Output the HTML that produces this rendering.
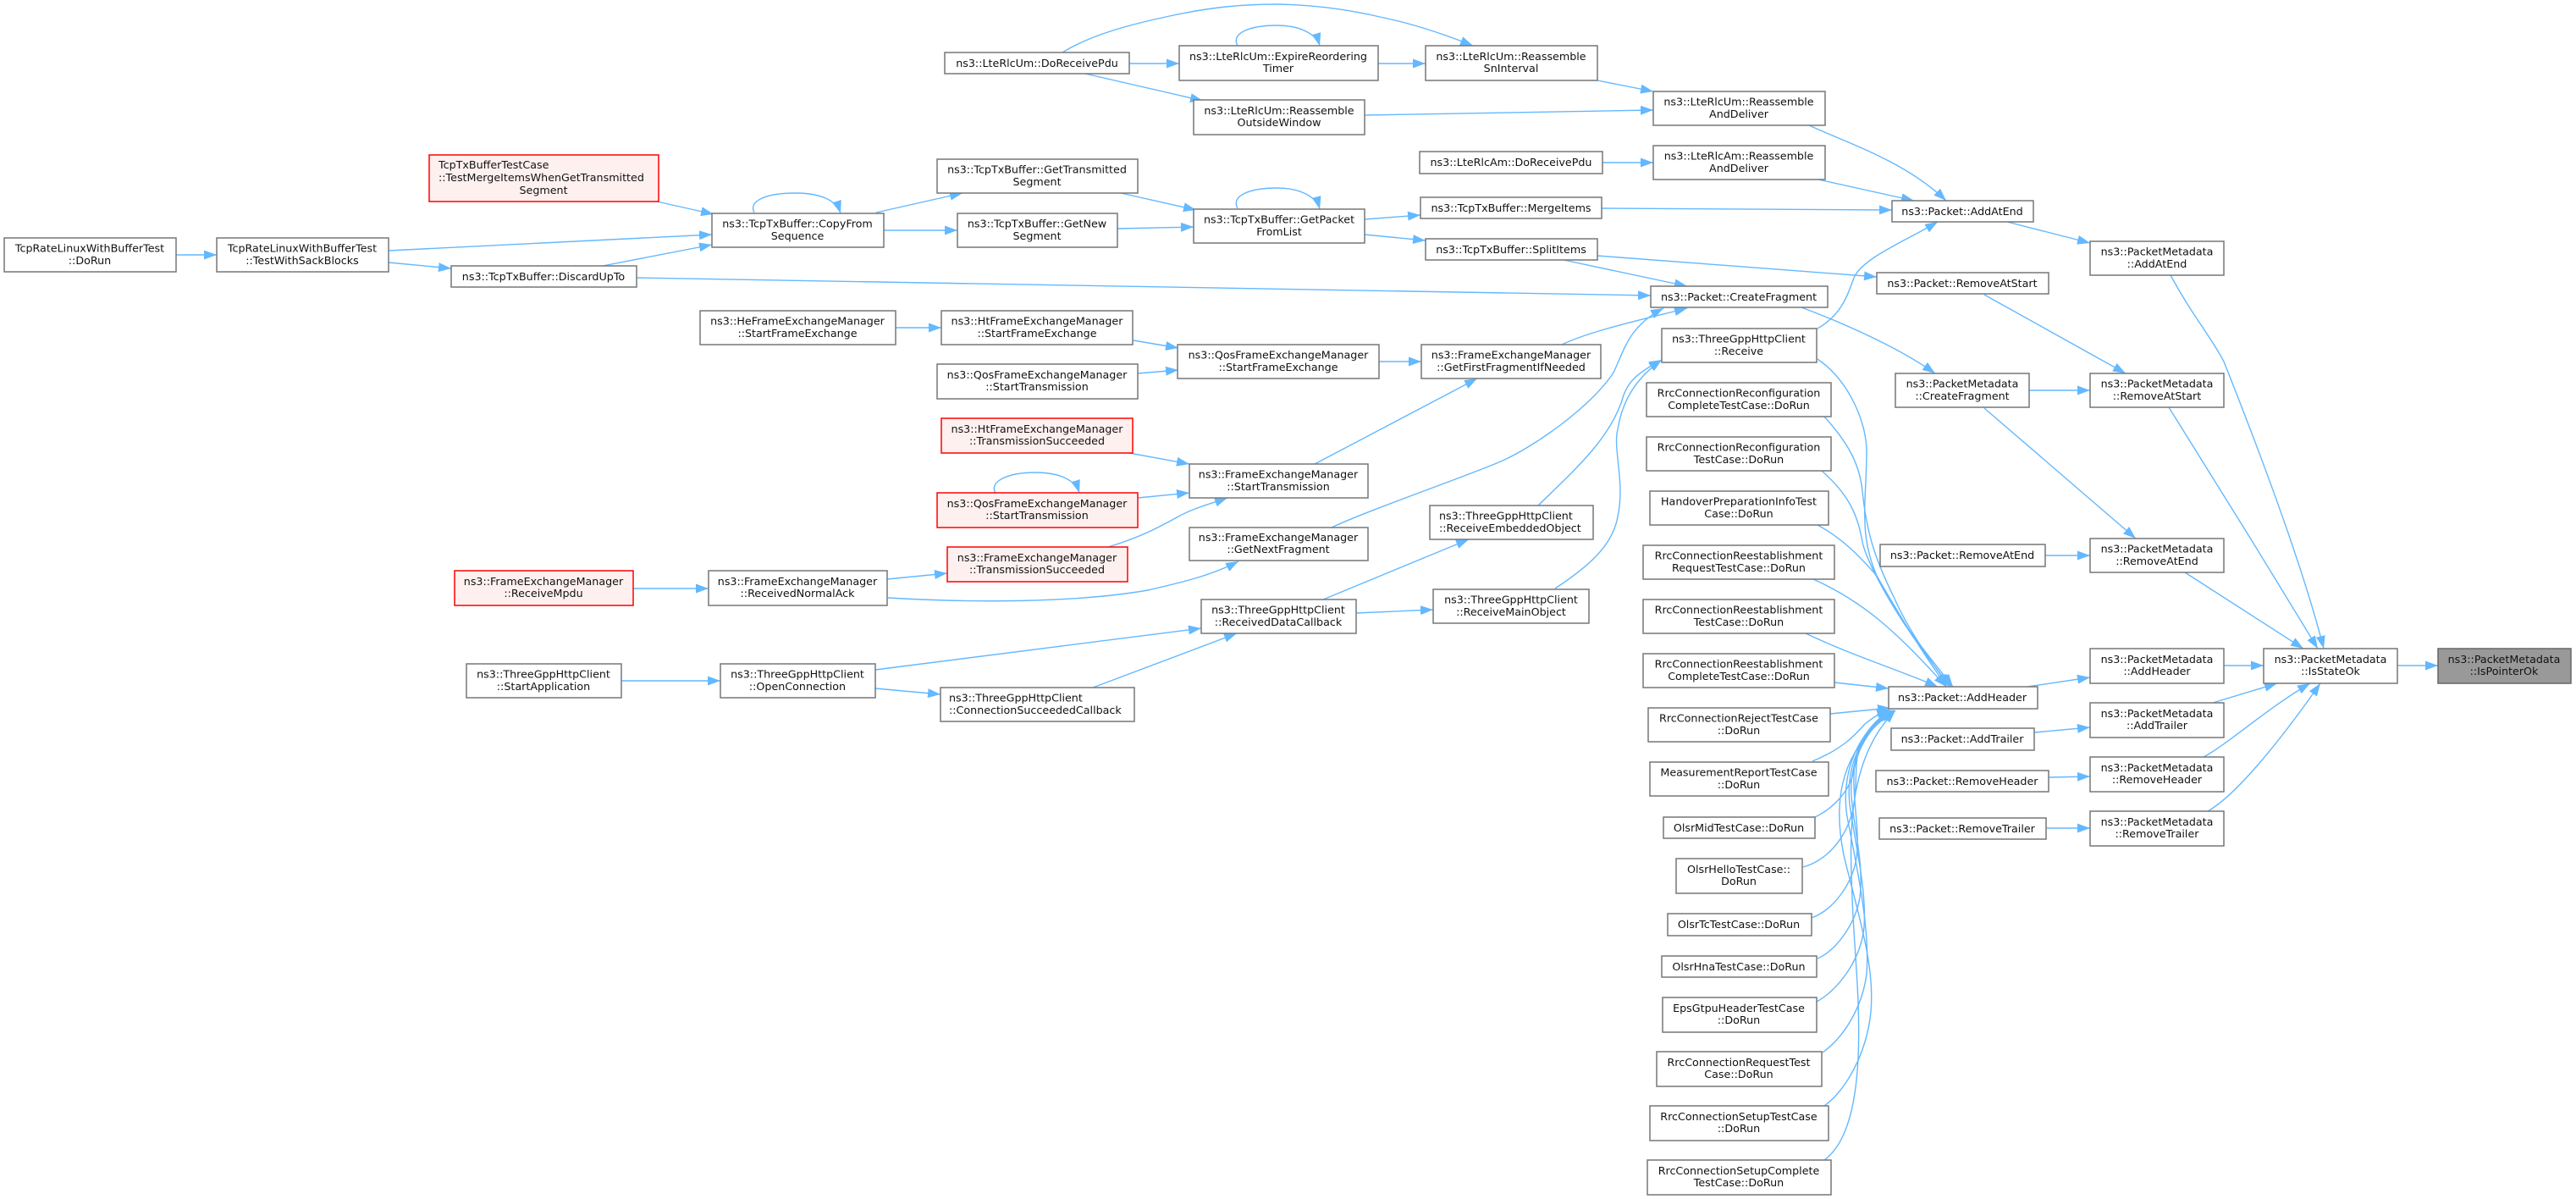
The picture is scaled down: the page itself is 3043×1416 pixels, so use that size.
<!DOCTYPE html>
<html><head><meta charset="utf-8"><title>Call graph</title>
<style>
html,body{margin:0;padding:0;background:#fff;width:3043px;height:1416px;overflow:hidden}
svg{display:block}
text{font-family:"DejaVu Sans",sans-serif;font-size:12.7px;fill:#111;text-anchor:middle}
text.l{text-anchor:start}
rect{fill:#fff;stroke:#777;stroke-width:1.5}
rect.r{fill:#fff0f0;stroke:#f00}
rect.g{fill:#999;stroke:#666}
path{fill:none;stroke:#63b8ff;stroke-width:1.4}
#a path{fill:#63b8ff;stroke:none}
</style></head><body>
<svg xmlns="http://www.w3.org/2000/svg" width="3043" height="1416" viewBox="0 0 3043 1416">
<defs><marker id="a" markerUnits="userSpaceOnUse" markerWidth="15" markerHeight="11" refX="15" refY="5.5" orient="auto"><path d="M0,0L15,5.5L0,11z"/></marker></defs>
<g marker-end="url(#a)">
<path marker-end="url(#a)" d="M208,301L256,301"/>
<path marker-end="url(#a)" d="M459,296L841,277"/>
<path marker-end="url(#a)" d="M459,310L533,317"/>
<path marker-end="url(#a)" d="M712,314L841,289"/>
<path marker-end="url(#a)" d="M776,238L843,253"/>
<path marker-end="url(#a)" d="M752,328L1950,349"/>
<path marker-end="url(#a)" d="M891,251C884,238 903,228 940,228C968,228 988,236 993,252"/>
<path marker-end="url(#a)" d="M1035,251L1137,228"/>
<path marker-end="url(#a)" d="M1044,272L1131,272"/>
<path marker-end="url(#a)" d="M1324,228L1413,248"/>
<path marker-end="url(#a)" d="M1320,270L1410,268"/>
<path marker-end="url(#a)" d="M1462,246C1454,232 1474,222 1509,222C1535,222 1555,232 1559,247"/>
<path marker-end="url(#a)" d="M1334,75L1393,75"/>
<path marker-end="url(#a)" d="M1282,87L1421,119"/>
<path marker-end="url(#a)" d="M1255,62C1290,40 1340,28 1377,20C1430,8 1470,5 1509,5C1560,6 1600,13 1630,20C1670,28 1710,42 1740,54"/>
<path marker-end="url(#a)" d="M1462,54C1454,40 1474,30 1509,30C1535,30 1555,40 1559,54"/>
<path marker-end="url(#a)" d="M1628,75L1684,75"/>
<path marker-end="url(#a)" d="M1887,95L1953,108"/>
<path marker-end="url(#a)" d="M1612,136L1953,130"/>
<path marker-end="url(#a)" d="M1893,192L1953,192"/>
<path marker-end="url(#a)" d="M2137,148C2180,168 2250,190 2299,237"/>
<path marker-end="url(#a)" d="M2148,212L2261,237"/>
<path marker-end="url(#a)" d="M1892,246L2235,248"/>
<path marker-end="url(#a)" d="M1612,259L1678,254"/>
<path marker-end="url(#a)" d="M1612,277L1684,284"/>
<path marker-end="url(#a)" d="M1887,302L2217,327"/>
<path marker-end="url(#a)" d="M1847,307L1993,338"/>
<path marker-end="url(#a)" d="M2128,363C2160,375 2235,405 2286,441"/>
<path marker-end="url(#a)" d="M2147,388C2175,372 2182,350 2190,328C2200,305 2250,285 2289,262"/>
<path marker-end="url(#a)" d="M1845,407C1880,390 1950,375 1993,364"/>
<path marker-end="url(#a)" d="M1573,623C1610,605 1725,565 1768,547C1810,530 1880,480 1906,440C1920,410 1925,385 1965,364"/>
<path marker-end="url(#a)" d="M1817,597C1860,555 1900,520 1916,473C1922,450 1935,440 1963,425"/>
<path marker-end="url(#a)" d="M1837,695C1875,670 1905,645 1911,610C1920,570 1905,530 1911,507C1917,470 1935,445 1963,425"/>
<path marker-end="url(#a)" d="M1602,724L1693,720"/>
<path marker-end="url(#a)" d="M1563,708L1735,637"/>
<path marker-end="url(#a)" d="M2147,424C2185,450 2205,500 2205,533C2205,590 2195,630 2217,680C2240,730 2275,770 2307,811"/>
<path marker-end="url(#a)" d="M2155,492C2185,525 2197,550 2200,580C2205,630 2215,660 2238,707C2255,745 2280,780 2303,811"/>
<path marker-end="url(#a)" d="M2152,556C2185,585 2195,610 2200,640C2205,665 2245,740 2305,811"/>
<path marker-end="url(#a)" d="M2147,620C2175,635 2195,655 2217,680C2240,720 2270,770 2300,811"/>
<path marker-end="url(#a)" d="M2142,684C2200,710 2240,745 2299,811"/>
<path marker-end="url(#a)" d="M2133,748C2190,775 2240,790 2289,811"/>
<path marker-end="url(#a)" d="M2167,806L2231,813"/>
<path marker-end="url(#a)" d="M2162,843L2233,836"/>
<path marker-end="url(#a)" d="M2141,899C2175,885 2190,870 2203,855C2212,848 2220,842 2232,838"/>
<path marker-end="url(#a)" d="M2144,965C2165,955 2185,935 2190,910C2195,885 2205,860 2232,839"/>
<path marker-end="url(#a)" d="M2130,1024C2155,1017 2178,995 2188,960C2195,930 2190,905 2196,885C2203,865 2215,850 2233,839"/>
<path marker-end="url(#a)" d="M2140,1084C2165,1075 2188,1045 2193,1013C2198,975 2185,935 2192,895C2197,870 2215,850 2234,839"/>
<path marker-end="url(#a)" d="M2147,1132C2170,1122 2192,1090 2197,1060C2202,1020 2190,980 2187,940C2184,900 2205,860 2235,839"/>
<path marker-end="url(#a)" d="M2146,1183C2170,1170 2198,1135 2202,1095C2205,1050 2192,1000 2185,950C2180,905 2200,860 2236,839"/>
<path marker-end="url(#a)" d="M2153,1243C2178,1225 2200,1190 2205,1150C2209,1100 2195,1030 2183,970C2172,915 2195,860 2237,839"/>
<path marker-end="url(#a)" d="M2155,1306C2180,1288 2205,1245 2210,1195C2215,1140 2195,1080 2178,1010C2168,960 2165,890 2238,839"/>
<path marker-end="url(#a)" d="M2155,1370C2180,1352 2192,1310 2195,1250C2198,1180 2190,1120 2188,1060C2186,1000 2178,900 2239,839"/>
<path marker-end="url(#a)" d="M2371,262L2469,287"/>
<path marker-end="url(#a)" d="M2344,348L2511,441"/>
<path marker-end="url(#a)" d="M2397,461L2469,461"/>
<path marker-end="url(#a)" d="M2344,482L2523,636"/>
<path marker-end="url(#a)" d="M2416,656L2469,656"/>
<path marker-end="url(#a)" d="M2564,325C2590,373 2612,398 2627,427C2660,510 2718,660 2745,766"/>
<path marker-end="url(#a)" d="M2562,481L2661,640L2738,766"/>
<path marker-end="url(#a)" d="M2581,676L2721,766"/>
<path marker-end="url(#a)" d="M2627,786L2674,786"/>
<path marker-end="url(#a)" d="M2832,786L2880,786"/>
<path marker-end="url(#a)" d="M2614,830L2690,807"/>
<path marker-end="url(#a)" d="M2603,894C2630,880 2680,835 2729,807"/>
<path marker-end="url(#a)" d="M2608,958C2640,940 2690,880 2741,807"/>
<path marker-end="url(#a)" d="M2395,811L2469,800"/>
<path marker-end="url(#a)" d="M2403,865L2469,859"/>
<path marker-end="url(#a)" d="M2420,918L2469,917"/>
<path marker-end="url(#a)" d="M2417,978L2469,978"/>
<path marker-end="url(#a)" d="M1058,387L1112,387"/>
<path marker-end="url(#a)" d="M1339,402L1392,411"/>
<path marker-end="url(#a)" d="M1344,441L1392,437"/>
<path marker-end="url(#a)" d="M1629,427L1679,427"/>
<path marker-end="url(#a)" d="M1553,548L1745,447"/>
<path marker-end="url(#a)" d="M1334,535L1405,548"/>
<path marker-end="url(#a)" d="M1344,588L1405,582"/>
<path marker-end="url(#a)" d="M1176,582C1168,570 1188,558 1223,558C1250,558 1270,566 1275,582"/>
<path marker-end="url(#a)" d="M1309,646C1345,635 1365,625 1392,610C1410,600 1430,595 1450,588"/>
<path marker-end="url(#a)" d="M1048,684L1119,677"/>
<path marker-end="url(#a)" d="M1049,706C1150,712 1270,712 1356,697C1395,688 1430,680 1463,663"/>
<path marker-end="url(#a)" d="M748,695L837,695"/>
<path marker-end="url(#a)" d="M734,804L851,804"/>
<path marker-end="url(#a)" d="M1034,791L1419,742"/>
<path marker-end="url(#a)" d="M1034,813L1111,820"/>
<path marker-end="url(#a)" d="M1291,812L1461,748"/>
</g>

<rect x="5" y="281" width="203" height="40"/><text x="106" y="297.5">TcpRateLinuxWithBufferTest</text><text x="106" y="312">::DoRun</text>
<rect x="256" y="281" width="203" height="40"/><text x="357" y="297.5">TcpRateLinuxWithBufferTest</text><text x="357" y="312">::TestWithSackBlocks</text>
<rect class="r" x="507" y="183" width="271" height="55"/><text class="l" x="518" y="199">TcpTxBufferTestCase</text><text class="l" x="518" y="214">::TestMergeItemsWhenGetTransmitted</text><text x="642" y="229">Segment</text>
<rect x="533" y="314" width="219" height="25"/><text x="642" y="331">ns3::TcpTxBuffer::DiscardUpTo</text>
<rect x="1116" y="62" width="218" height="25"/><text x="1225" y="79">ns3::LteRlcUm::DoReceivePdu</text>
<rect x="1393" y="54" width="235" height="41"/><text x="1510" y="71">ns3::LteRlcUm::ExpireReordering</text><text x="1510" y="85">Timer</text>
<rect x="1410" y="118" width="202" height="41"/><text x="1511" y="135">ns3::LteRlcUm::Reassemble</text><text x="1511" y="149">OutsideWindow</text>
<rect x="1107" y="188" width="237" height="40"/><text x="1225" y="204.5">ns3::TcpTxBuffer::GetTransmitted</text><text x="1225" y="219">Segment</text>
<rect x="841" y="252" width="203" height="40"/><text x="942" y="268.5">ns3::TcpTxBuffer::CopyFrom</text><text x="942" y="283">Sequence</text>
<rect x="1131" y="252" width="189" height="40"/><text x="1225" y="268.5">ns3::TcpTxBuffer::GetNew</text><text x="1225" y="283">Segment</text>
<rect x="1410" y="247" width="202" height="40"/><text x="1511" y="263.5">ns3::TcpTxBuffer::GetPacket</text><text x="1511" y="278">FromList</text>
<rect x="827" y="367" width="231" height="40"/><text x="942" y="383.5">ns3::HeFrameExchangeManager</text><text x="942" y="398">::StartFrameExchange</text>
<rect x="1112" y="367" width="226" height="40"/><text x="1225" y="383.5">ns3::HtFrameExchangeManager</text><text x="1225" y="398">::StartFrameExchange</text>
<rect x="1107" y="430" width="237" height="41"/><text x="1225" y="447">ns3::QosFrameExchangeManager</text><text x="1225" y="461">::StartTransmission</text>
<rect x="1391" y="407" width="238" height="40"/><text x="1510" y="423.5">ns3::QosFrameExchangeManager</text><text x="1510" y="438">::StartFrameExchange</text>
<rect x="1684" y="54" width="203" height="41"/><text x="1785" y="71">ns3::LteRlcUm::Reassemble</text><text x="1785" y="85">SnInterval</text>
<rect x="1953" y="108" width="203" height="40"/><text x="2054" y="124.5">ns3::LteRlcUm::Reassemble</text><text x="2054" y="139">AndDeliver</text>
<rect x="1677" y="179" width="216" height="26"/><text x="1785" y="196">ns3::LteRlcAm::DoReceivePdu</text>
<rect x="1953" y="172" width="203" height="40"/><text x="2054" y="188.5">ns3::LteRlcAm::Reassemble</text><text x="2054" y="203">AndDeliver</text>
<rect x="1678" y="233" width="214" height="25"/><text x="1785" y="250">ns3::TcpTxBuffer::MergeItems</text>
<rect x="1684" y="282" width="203" height="25"/><text x="1785" y="299">ns3::TcpTxBuffer::SplitItems</text>
<rect x="2235" y="237" width="167" height="25"/><text x="2318" y="254">ns3::Packet::AddAtEnd</text>
<rect x="2217" y="322" width="203" height="25"/><text x="2318" y="339">ns3::Packet::RemoveAtStart</text>
<rect x="1950" y="338" width="209" height="25"/><text x="2054" y="355">ns3::Packet::CreateFragment</text>
<rect x="1963" y="388" width="183" height="40"/><text x="2054" y="404.5">ns3::ThreeGppHttpClient</text><text x="2054" y="419">::Receive</text>
<rect x="1679" y="407" width="212" height="40"/><text x="1785" y="423.5">ns3::FrameExchangeManager</text><text x="1785" y="438">::GetFirstFragmentIfNeeded</text>
<rect x="2239" y="441" width="158" height="40"/><text x="2318" y="457.5">ns3::PacketMetadata</text><text x="2318" y="472">::CreateFragment</text>
<rect x="2469" y="285" width="158" height="40"/><text x="2548" y="301.5">ns3::PacketMetadata</text><text x="2548" y="316">::AddAtEnd</text>
<rect x="2469" y="441" width="158" height="40"/><text x="2548" y="457.5">ns3::PacketMetadata</text><text x="2548" y="472">::RemoveAtStart</text>
<rect x="2469" y="636" width="158" height="40"/><text x="2548" y="652.5">ns3::PacketMetadata</text><text x="2548" y="667">::RemoveAtEnd</text>
<rect x="2221" y="643" width="195" height="26"/><text x="2318" y="660">ns3::Packet::RemoveAtEnd</text>
<rect class="r" x="537" y="674" width="211" height="41"/><text x="642" y="691">ns3::FrameExchangeManager</text><text x="642" y="705">::ReceiveMpdu</text>
<rect x="551" y="784" width="183" height="40"/><text x="642" y="800.5">ns3::ThreeGppHttpClient</text><text x="642" y="815">::StartApplication</text>
<rect class="r" x="1112" y="494" width="226" height="41"/><text x="1225" y="511">ns3::HtFrameExchangeManager</text><text x="1225" y="525">::TransmissionSucceeded</text>
<rect class="r" x="1107" y="582" width="237" height="41"/><text x="1225" y="599">ns3::QosFrameExchangeManager</text><text x="1225" y="613">::StartTransmission</text>
<rect class="r" x="1119" y="646" width="213" height="41"/><text x="1225" y="663">ns3::FrameExchangeManager</text><text x="1225" y="677">::TransmissionSucceeded</text>
<rect x="837" y="674" width="211" height="41"/><text x="942" y="691">ns3::FrameExchangeManager</text><text x="942" y="705">::ReceivedNormalAck</text>
<rect x="851" y="784" width="183" height="40"/><text x="942" y="800.5">ns3::ThreeGppHttpClient</text><text x="942" y="815">::OpenConnection</text>
<rect x="1111" y="812" width="229" height="40"/><text class="l" x="1121" y="828.5">ns3::ThreeGppHttpClient</text><text class="l" x="1121" y="843">::ConnectionSucceededCallback</text>
<rect x="1405" y="548" width="211" height="40"/><text x="1510" y="564.5">ns3::FrameExchangeManager</text><text x="1510" y="579">::StartTransmission</text>
<rect x="1405" y="623" width="211" height="39"/><text x="1510" y="639">ns3::FrameExchangeManager</text><text x="1510" y="653">::GetNextFragment</text>
<rect x="1419" y="708" width="183" height="40"/><text x="1510" y="724.5">ns3::ThreeGppHttpClient</text><text x="1510" y="739">::ReceivedDataCallback</text>
<rect x="1689" y="597" width="193" height="40"/><text class="l" x="1700" y="613.5">ns3::ThreeGppHttpClient</text><text class="l" x="1700" y="628">::ReceiveEmbeddedObject</text>
<rect x="1693" y="696" width="184" height="40"/><text x="1785" y="712.5">ns3::ThreeGppHttpClient</text><text x="1785" y="727">::ReceiveMainObject</text>
<rect x="1945" y="452" width="218" height="40"/><text x="2054" y="468.5">RrcConnectionReconfiguration</text><text x="2054" y="483">CompleteTestCase::DoRun</text>
<rect x="1945" y="516" width="218" height="40"/><text x="2054" y="532.5">RrcConnectionReconfiguration</text><text x="2054" y="547">TestCase::DoRun</text>
<rect x="1949" y="580" width="211" height="40"/><text x="2054" y="596.5">HandoverPreparationInfoTest</text><text x="2054" y="611">Case::DoRun</text>
<rect x="1941" y="644" width="226" height="40"/><text x="2054" y="660.5">RrcConnectionReestablishment</text><text x="2054" y="675">RequestTestCase::DoRun</text>
<rect x="1941" y="708" width="226" height="40"/><text x="2054" y="724.5">RrcConnectionReestablishment</text><text x="2054" y="739">TestCase::DoRun</text>
<rect x="1941" y="772" width="226" height="40"/><text x="2054" y="788.5">RrcConnectionReestablishment</text><text x="2054" y="803">CompleteTestCase::DoRun</text>
<rect x="1947" y="836" width="215" height="40"/><text x="2054" y="852.5">RrcConnectionRejectTestCase</text><text x="2054" y="867">::DoRun</text>
<rect x="1949" y="900" width="211" height="40"/><text x="2054" y="916.5">MeasurementReportTestCase</text><text x="2054" y="931">::DoRun</text>
<rect x="2231" y="811" width="176" height="26"/><text x="2318" y="828">ns3::Packet::AddHeader</text>
<rect x="2234" y="860" width="169" height="26"/><text x="2318" y="877">ns3::Packet::AddTrailer</text>
<rect x="2216" y="910" width="204" height="25"/><text x="2318" y="927">ns3::Packet::RemoveHeader</text>
<rect x="2220" y="966" width="197" height="25"/><text x="2318" y="983">ns3::Packet::RemoveTrailer</text>
<rect x="1965" y="965" width="179" height="25"/><text x="2054" y="982">OlsrMidTestCase::DoRun</text>
<rect x="1980" y="1014" width="149" height="41"/><text x="2054" y="1031">OlsrHelloTestCase::</text><text x="2054" y="1045">DoRun</text>
<rect x="1970" y="1079" width="170" height="26"/><text x="2054" y="1096">OlsrTcTestCase::DoRun</text>
<rect x="1963" y="1129" width="183" height="25"/><text x="2054" y="1146">OlsrHnaTestCase::DoRun</text>
<rect x="1964" y="1178" width="182" height="41"/><text x="2054" y="1195">EpsGtpuHeaderTestCase</text><text x="2054" y="1209">::DoRun</text>
<rect x="1957" y="1242" width="195" height="41"/><text x="2054" y="1259">RrcConnectionRequestTest</text><text x="2054" y="1273">Case::DoRun</text>
<rect x="1949" y="1306" width="211" height="41"/><text x="2054" y="1323">RrcConnectionSetupTestCase</text><text x="2054" y="1337">::DoRun</text>
<rect x="1946" y="1370" width="217" height="41"/><text x="2054" y="1387">RrcConnectionSetupComplete</text><text x="2054" y="1401">TestCase::DoRun</text>
<rect x="2469" y="766" width="158" height="41"/><text x="2548" y="783">ns3::PacketMetadata</text><text x="2548" y="797">::AddHeader</text>
<rect x="2469" y="830" width="158" height="41"/><text x="2548" y="847">ns3::PacketMetadata</text><text x="2548" y="861">::AddTrailer</text>
<rect x="2469" y="894" width="158" height="41"/><text x="2548" y="911">ns3::PacketMetadata</text><text x="2548" y="925">::RemoveHeader</text>
<rect x="2469" y="958" width="158" height="41"/><text x="2548" y="975">ns3::PacketMetadata</text><text x="2548" y="989">::RemoveTrailer</text>
<rect x="2674" y="766" width="158" height="41"/><text x="2753" y="783">ns3::PacketMetadata</text><text x="2753" y="797">::IsStateOk</text>
<rect class="g" x="2880" y="766" width="157" height="41"/><text x="2958" y="783">ns3::PacketMetadata</text><text x="2958" y="797">::IsPointerOk</text>
</svg>
</body></html>
